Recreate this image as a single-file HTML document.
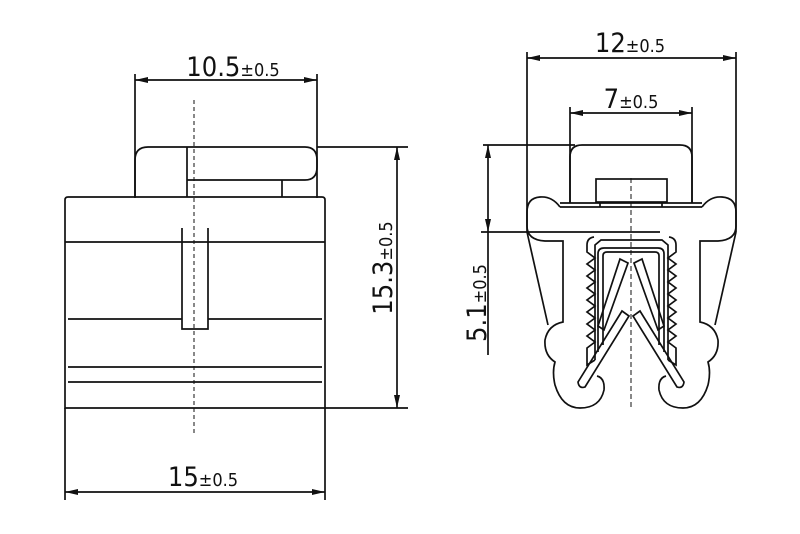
<!DOCTYPE html>
<html><head><style>html,body{margin:0;padding:0;background:#fff}svg{display:block}text{font-family:"DejaVu Sans Condensed","Liberation Sans",sans-serif;fill:#111}</style></head>
<body>
<svg width="800" height="534" viewBox="0 0 800 534" xmlns="http://www.w3.org/2000/svg">
<defs>
<marker id="a" viewBox="0 0 13 6" refX="13" refY="3" markerWidth="13" markerHeight="6" orient="auto-start-reverse" markerUnits="userSpaceOnUse"><path d="M0,0 L13,3 L0,6z" fill="#111"/></marker>
</defs>
<g fill="none" stroke="#111" stroke-width="1.7">
<line x1="135" y1="74" x2="135" y2="198"/>
<line x1="317" y1="74" x2="317" y2="198"/>
<line x1="135" y1="80" x2="317" y2="80" marker-start="url(#a)" marker-end="url(#a)"/>
<path d="M135,197 V160 Q135,147 148,147 H305 Q317,147 317,160 V167 Q317,180 305,180 H187"/>
<line x1="187" y1="147" x2="187" y2="197"/>
<line x1="282" y1="180" x2="282" y2="197"/>
<path d="M65,408 V200 Q65,197 68,197 H322 Q325,197 325,200 V408 Z"/>
<line x1="65" y1="242" x2="325" y2="242"/>
<path d="M182,228 V329 H208 V228"/>
<line x1="68" y1="319" x2="182" y2="319"/><line x1="208" y1="319" x2="322" y2="319"/>
<line x1="68" y1="367" x2="322" y2="367"/>
<line x1="68" y1="382" x2="322" y2="382"/>
<line x1="194" y1="100" x2="194" y2="436" stroke-dasharray="4,3" stroke-width="1"/>
<line x1="317" y1="147" x2="408" y2="147"/>
<line x1="325" y1="408" x2="408" y2="408"/>
<line x1="397" y1="147" x2="397" y2="408" marker-start="url(#a)" marker-end="url(#a)"/>
<line x1="65" y1="408" x2="65" y2="500"/>
<line x1="325" y1="408" x2="325" y2="500"/>
<line x1="65" y1="492" x2="325" y2="492" marker-start="url(#a)" marker-end="url(#a)"/>
<line x1="527" y1="52" x2="527" y2="232"/>
<line x1="736" y1="52" x2="736" y2="232"/>
<line x1="527" y1="58" x2="736" y2="58" marker-start="url(#a)" marker-end="url(#a)"/>
<line x1="570" y1="107" x2="570" y2="203"/>
<line x1="692" y1="107" x2="692" y2="203"/>
<line x1="570" y1="113" x2="692" y2="113" marker-start="url(#a)" marker-end="url(#a)"/>
<path d="M570,203 V157 Q570,145 582,145 H680 Q692,145 692,157 V203"/>
<line x1="483" y1="145" x2="575" y2="145"/>
<line x1="481" y1="232" x2="660" y2="232"/>
<line x1="488" y1="145" x2="488" y2="232" marker-start="url(#a)" marker-end="url(#a)"/>
<line x1="488" y1="232" x2="488" y2="355"/>
<rect x="596" y="179" width="71" height="23"/>
<line x1="560" y1="203" x2="702" y2="203"/>
<line x1="600" y1="203" x2="600" y2="207"/><line x1="662" y1="203" x2="662" y2="207"/>
<path d="M560,207 H702"/>
<path d="M560,207 Q552,196 540,197 Q527,198 527,212 V226 Q527,240 545,241 H563 V322 Q548,325 545,340 Q544,355 555,362 Q552,372 555,385 Q562,408 580,408 Q600,408 604,390 Q605,378 597,376"/>
<path d="M527,232 L548,325"/>
<path d="M702,207 Q710,196 722,197 Q736,198 736,212 V226 Q736,240 718,241 H700 V322 Q715,325 718,340 Q719,355 708,362 Q711,372 708,385 Q701,408 683,408 Q663,408 659,390 Q658,378 666,376"/>
<path d="M736,232 L715,325"/>
<path d="M594,237 Q587,238 587,245 V252 l8,6 l-8,6 l8,6 l-8,6 l8,6 l-8,6 l8,6 l-8,6 l8,6 l-8,6 l8,6 l-8,6 l8,6 l-8,6 l8,6 l-8,6 V365 L595,360"/>
<path d="M669,237 Q676,238 676,245 V252 l-8,6 l8,6 l-8,6 l8,6 l-8,6 l8,6 l-8,6 l8,6 l-8,6 l8,6 l-8,6 l8,6 l-8,6 l8,6 l-8,6 l8,6 V365 L668,360"/>
<path d="M595,360 V245 L601,240 H662 L668,245 V360"/>
<path d="M598,352 V254 Q598,248 604,248 H658 Q664,248 664,254 V352"/>
<path d="M603,345 V256 Q603,252 607,252 H655 Q659,252 659,256 V345"/>
<path d="M620,259 L628,263 L604,330 L598,326 Z"/>
<path d="M642,259 L634,263 L658,330 L664,326 Z"/>
<path d="M622,311 L629,316 L585,387 Q579,389 578,382 Z"/>
<path d="M640,311 L633,316 L677,387 Q683,389 684,382 Z"/>
<line x1="631" y1="178" x2="631" y2="410" stroke-dasharray="5,3" stroke-width="1"/>
</g>
<g font-size="27">
<text x="233" y="76" text-anchor="middle">10.5<tspan font-size="18">±0.5</tspan></text>
<text x="203" y="486" text-anchor="middle">15<tspan font-size="18">±0.5</tspan></text>
<text x="630" y="52" text-anchor="middle">12<tspan font-size="18">±0.5</tspan></text>
<text x="631" y="108" text-anchor="middle">7<tspan font-size="18">±0.5</tspan></text>
<text transform="translate(392,268) rotate(-90)" text-anchor="middle">15.3<tspan font-size="18">±0.5</tspan></text>
<text transform="translate(486,303) rotate(-90)" text-anchor="middle">5.1<tspan font-size="18">±0.5</tspan></text>
</g>
</svg>
</body></html>
